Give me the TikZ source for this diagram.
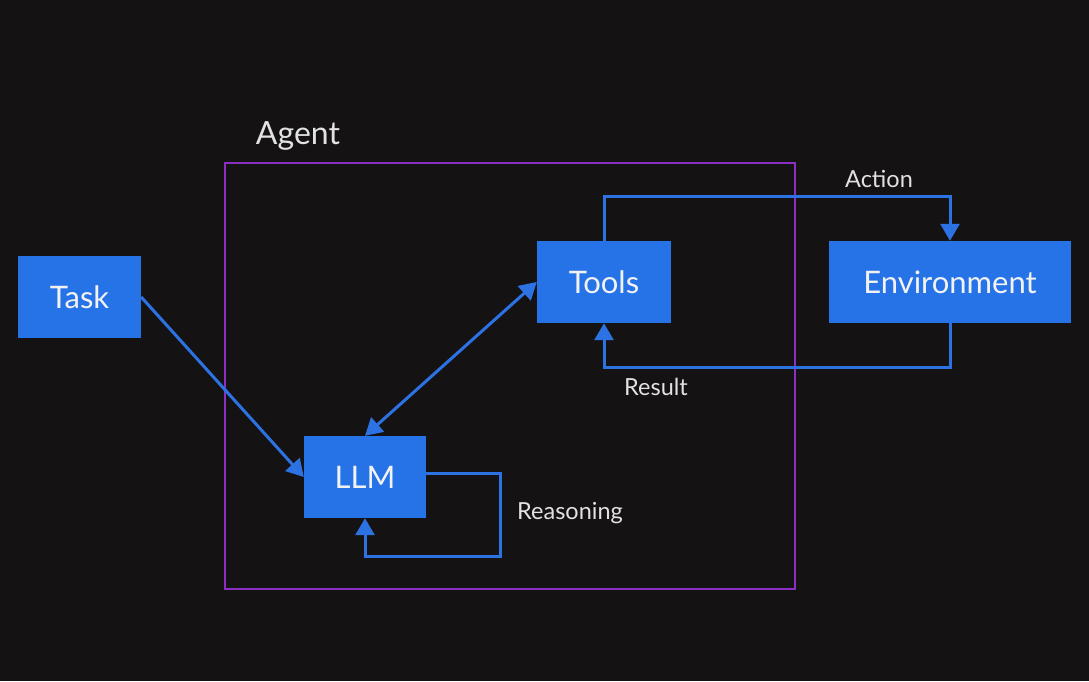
\documentclass[tikz,border=0pt]{standalone}
\usepackage{fontspec}
\setmainfont{Lato}
\usetikzlibrary{arrows.meta}
\definecolor{bg}{HTML}{151214}
\definecolor{boxblue}{HTML}{2673E8}
\definecolor{lineblue}{HTML}{2C72E2}
\definecolor{agentpurple}{HTML}{8B2FC4}
\definecolor{txt}{HTML}{F2F2F2}
\definecolor{lbl}{HTML}{E2E2E2}
\tikzset{
  blockbox/.style={fill=boxblue, draw=none, text=txt, font=\fontsize{31}{34}\selectfont, inner sep=0pt},
  conn/.style={draw=lineblue, line width=3pt, -{Triangle[width=19pt,length=17pt]}},
  lab/.style={text=lbl, font=\fontsize{23.5}{26}\selectfont},
}
\begin{document}
\begin{tikzpicture}[x=1pt,y=-1pt]
\fill[bg] (0,0) rectangle (1089,681);
\useasboundingbox (0,0) rectangle (1089,681);
% agent frame
\draw[agentpurple, line width=1.6pt] (225,163) rectangle (795,589);
\node[text=lbl, font=\fontsize{32}{36}\selectfont] (agentlbl) at (298,136) {Agent};
% nodes
\node[blockbox, minimum width=123pt, minimum height=82pt] (task) at (79.5,297) {Task};
\node[blockbox, minimum width=134pt, minimum height=82pt] (tools) at (604,282) {Tools};
\node[blockbox, minimum width=242pt, minimum height=82pt] (env) at (950,282) {Environment};
\node[blockbox, minimum width=122pt, minimum height=82pt] (llm) at (365,477) {LLM};
% coordinates
\coordinate (a1) at (604,196);
\coordinate (a2) at (950,196);
\coordinate (r1) at (950,367);
\coordinate (r2) at (604,367);
\coordinate (s1) at (500,473);
\coordinate (s2) at (500,556);
\coordinate (s3) at (365,556);
% connectors
\draw[conn] (task.east) -- (llm.west);
\draw[conn, {Triangle[width=19pt,length=17pt]}-{Triangle[width=19pt,length=17pt]}] (llm.north) -- (tools.west);
\draw[conn] (tools.north) -- (a1) -- (a2) -- (env.north);
\draw[conn] (env.south) -- (r1) -- (r2) -- (tools.south);
\draw[conn] (llm.east |- s1) -- (s1) -- (s2) -- (s3) -- (llm.south);
% labels
\node[lab] (action) at (879,179) {Action};
\node[lab] (result) at (656,387) {Result};
\node[lab] (reasoning) at (570,513) {Reasoning};
\end{tikzpicture}
\end{document}
